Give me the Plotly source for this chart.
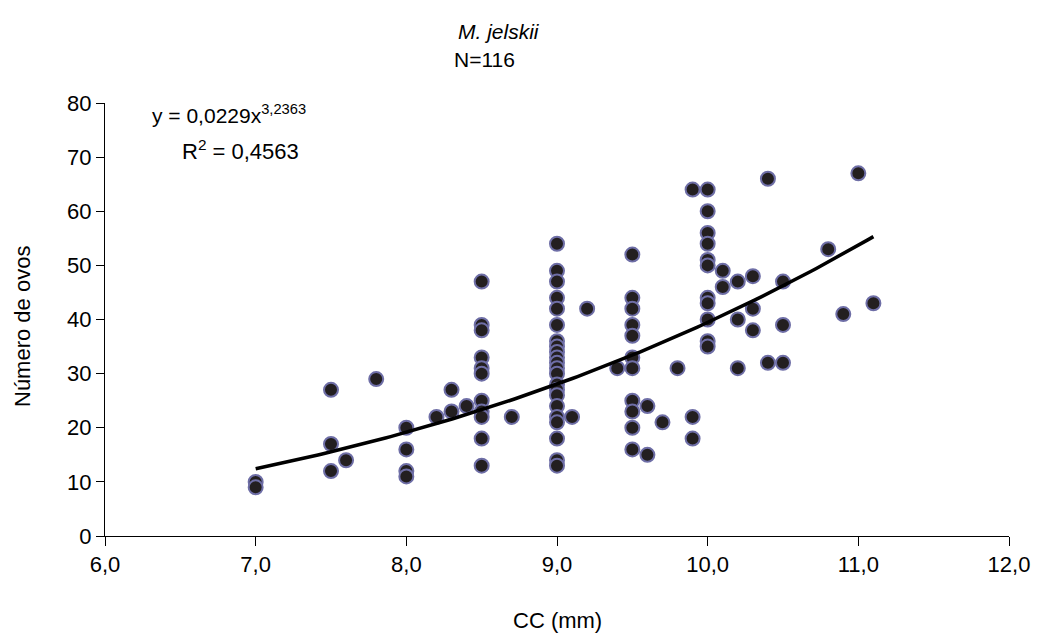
import numpy as np
import plotly.graph_objects as go

# CC (mm) and number of eggs
cc_mm = [
    7.0, 7.0,
    7.5, 7.5, 7.5,
    7.6, 7.8,
    8.0, 8.0, 8.0, 8.0,
    8.2, 8.3, 8.3, 8.4,
    8.5, 8.5, 8.5, 8.5, 8.5, 8.5, 8.5, 8.5, 8.5, 8.5, 8.5,
    8.7,
    9.0, 9.0, 9.0, 9.0, 9.0, 9.0, 9.0, 9.0, 9.0, 9.0, 9.0,
    9.0, 9.0, 9.0, 9.0, 9.0, 9.0, 9.0, 9.0, 9.0, 9.0, 9.0,
    9.1, 9.2, 9.4,
    9.5, 9.5, 9.5, 9.5, 9.5, 9.5, 9.5, 9.5, 9.5, 9.5, 9.5,
    9.6, 9.6, 9.7, 9.8,
    9.9, 9.9, 9.9,
    10.0, 10.0, 10.0, 10.0, 10.0, 10.0, 10.0, 10.0, 10.0, 10.0, 10.0,
    10.1, 10.1,
    10.2, 10.2, 10.2,
    10.3, 10.3, 10.3,
    10.4, 10.4,
    10.5, 10.5, 10.5,
    10.8, 10.9, 11.0, 11.1,
]
n_ovos = [
    10, 9,
    27, 17, 12,
    14, 29,
    20, 16, 12, 11,
    22, 27, 23, 24,
    47, 39, 38, 33, 31, 30, 25, 23, 22, 18, 13,
    22,
    54, 49, 47, 44, 42, 39, 36, 35, 34, 33, 32,
    31, 30, 28, 27, 26, 24, 22, 21, 18, 14, 13,
    22, 42, 31,
    52, 44, 42, 39, 37, 33, 31, 25, 23, 20, 16,
    24, 15, 21, 31,
    64, 22, 18,
    64, 60, 56, 54, 51, 50, 44, 43, 40, 36, 35,
    49, 46,
    47, 40, 31,
    48, 42, 38,
    66, 32,
    47, 39, 32,
    53, 41, 67, 43,
]

# Power trend line shown on the chart: y = a * x^b
trend_a = 0.0229
trend_b = 3.2363
trend_x_range = [7.0, 11.1]

x_ticks = [6, 7, 8, 9, 10, 11, 12]
x_tick_labels = ["6,0", "7,0", "8,0", "9,0", "10,0", "11,0", "12,0"]
y_ticks = [0, 10, 20, 30, 40, 50, 60, 70, 80]

tx = np.linspace(trend_x_range[0], trend_x_range[1], 120)
ty = trend_a * tx ** trend_b

FONT = "Liberation Sans, Arial, sans-serif"

# plot area in pixels (for placing free text)
L, R, T, B = 105, 32, 103, 99
PW, PH = 1041 - L - R, 635 - T - B


def px(xp):
    return (xp - L) / PW


def py(yp):
    return (635 - B - yp) / PH


fig = go.Figure()
fig.add_trace(go.Scatter(
    x=cc_mm, y=n_ovos, mode="markers",
    marker=dict(size=14, color="#231f20", line=dict(color="#6e6ea6", width=2)),
    showlegend=False, cliponaxis=False,
))
fig.add_trace(go.Scatter(
    x=tx, y=ty, mode="lines",
    line=dict(color="black", width=3.5),
    showlegend=False,
))

fig.update_layout(
    width=1041, height=635,
    margin=dict(l=L, r=R, t=T, b=B),
    paper_bgcolor="white", plot_bgcolor="white",
    font=dict(family=FONT, size=22, color="black"),
    xaxis=dict(
        range=[6, 12], tickvals=x_ticks, ticktext=x_tick_labels,
        showgrid=False, zeroline=False, showline=True, linecolor="black", linewidth=1,
        ticks="outside", ticklen=9, tickcolor="black", tickwidth=1,
        tickfont=dict(size=22), automargin=False,
    ),
    yaxis=dict(
        range=[0, 80], tickvals=y_ticks,
        showgrid=False, zeroline=False, showline=True, linecolor="black", linewidth=1,
        ticks="outside", ticklen=8, tickcolor="black", tickwidth=1,
        tickfont=dict(size=22), automargin=False,
    ),
    annotations=[
        dict(text="CC (mm)", x=px(557), y=py(620), xref="paper", yref="paper",
             showarrow=False, xanchor="center", yanchor="middle", font=dict(size=22)),
        dict(text="Número de ovos", x=px(22), y=py(327), xref="paper", yref="paper",
             textangle=-90, showarrow=False, xanchor="center", yanchor="middle",
             font=dict(size=22)),
        dict(text="<i>M. jelskii</i>", x=px(499), y=py(32), xref="paper", yref="paper",
             showarrow=False, xanchor="center", yanchor="middle", font=dict(size=21)),
        dict(text="N=116", x=px(484), y=py(60), xref="paper", yref="paper",
             showarrow=False, xanchor="center", yanchor="middle", font=dict(size=21)),
        dict(text="y = 0,0229x<sup>3,2363</sup>", x=px(150), y=py(114),
             xref="paper", yref="paper", showarrow=False, xanchor="left", yanchor="middle",
             font=dict(size=21)),
        dict(text="R<sup>2</sup> = 0,4563", x=px(180), y=py(150),
             xref="paper", yref="paper", showarrow=False, xanchor="left", yanchor="middle",
             font=dict(size=22)),
    ],
)

fig.write_html("out.html")
